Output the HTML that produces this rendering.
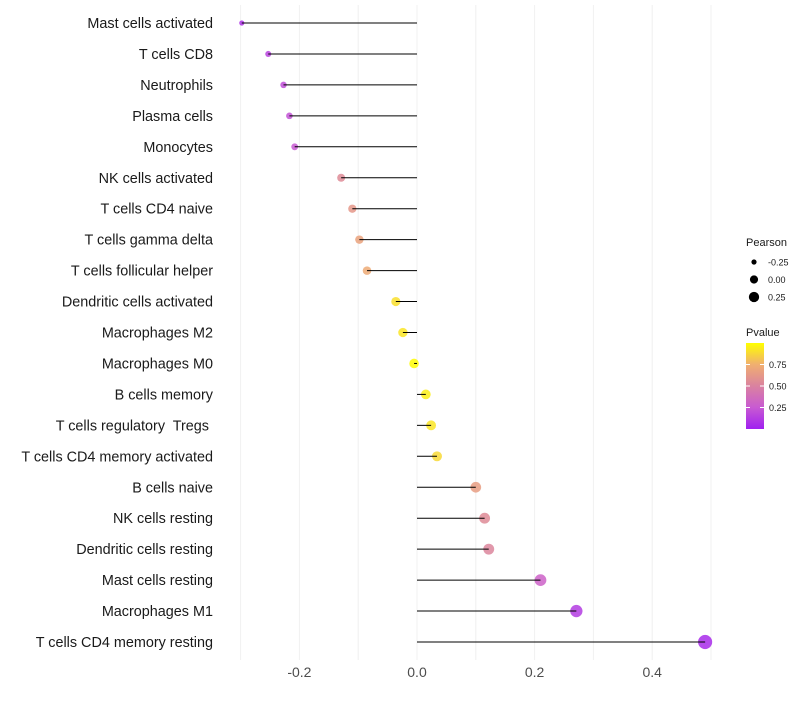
<!DOCTYPE html>
<html><head><meta charset="utf-8"><style>
body{margin:0;background:#fff;font-family:"Liberation Sans",sans-serif}
</style></head><body>
<svg id="c" width="800" height="700" xmlns="http://www.w3.org/2000/svg"></svg>
<script>
const categories=["Mast cells activated","T cells CD8","Neutrophils","Plasma cells","Monocytes","NK cells activated","T cells CD4 naive","T cells gamma delta","T cells follicular helper","Dendritic cells activated","Macrophages M2","Macrophages M0","B cells memory","T cells regulatory  Tregs ","T cells CD4 memory activated","B cells naive","NK cells resting","Dendritic cells resting","Mast cells resting","Macrophages M1","T cells CD4 memory resting"];
const pearson=[-0.298,-0.253,-0.227,-0.217,-0.208,-0.129,-0.110,-0.098,-0.085,-0.036,-0.024,-0.005,0.015,0.024,0.034,0.100,0.115,0.122,0.210,0.271,0.490];
const pvalue=[0.08,0.15,0.2,0.22,0.25,0.55,0.62,0.68,0.72,0.9,0.92,0.99,0.95,0.92,0.88,0.65,0.55,0.52,0.3,0.12,0.05];
const xTicks=[-0.2,0,0.2,0.4];
const xTickLabels=["-0.2","0.0","0.2","0.4"];
const sizeLegend=[-0.25,0,0.25];
const sizeLegendLabels=["-0.25","0.00","0.25"];
const colorTicks=[0.25,0.5,0.75];
const colorTickLabels=["0.25","0.50","0.75"];

const NS="http://www.w3.org/2000/svg";
const svg=document.getElementById('c');
function mk(t,a,p){const e=document.createElementNS(NS,t);for(const k in a)e.setAttribute(k,a[k]);(p||svg).appendChild(e);return e;}
const X=v=>417+v*588;
const Y=i=>23+i*30.95;
const R=v=>Math.sqrt(Math.max(2,23+55*v));
const stops=[[0,[160,32,240]],[0.25,[200,90,210]],[0.5,[218,130,160]],[0.75,[240,175,112]],[1,[255,255,0]]];
function col(p){for(let i=1;i<stops.length;i++){if(p<=stops[i][0]){const a=stops[i-1],b=stops[i],t=(p-a[0])/(b[0]-a[0]);return 'rgb('+a[1].map((c,j)=>Math.round(c+(b[1][j]-c)*t)).join(',')+')';}}return 'rgb(255,255,0)';}
for(let k=-3;k<=5;k++){const v=k/10;const g=mk('line',{x1:X(v),x2:X(v),y1:5,y2:660,stroke:'#f0f0f0','stroke-width':1});

}
xTicks.forEach((v,i)=>{const t=mk('text',{x:X(v),y:677,'text-anchor':'middle','font-size':14,fill:'#4d4d4d'});t.textContent=xTickLabels[i];

});
categories.forEach((c,i)=>{
const y=Y(i);
const lab=mk('text',{x:213,y:y+5,'text-anchor':'end','font-size':14.4,fill:'#1a1a1a'});lab.style.whiteSpace='pre';lab.textContent=c;


const pt=mk('circle',{cx:X(pearson[i]),cy:y,r:R(pearson[i]),fill:col(pvalue[i]),'fill-opacity':0.85});


const ln=mk('line',{x1:X(0),x2:X(pearson[i]),y1:y,y2:y,stroke:'#000','stroke-width':1});


});
const lt=mk('text',{x:746,y:246,'font-size':11,fill:'#1a1a1a'});lt.textContent='Pearson';


sizeLegend.forEach((v,i)=>{const y=262+i*17.5;
const c=mk('circle',{cx:754,cy:y,r:R(v)*0.85,fill:'#000'});


const t=mk('text',{x:768,y:y+3.5,'font-size':9,fill:'#1a1a1a'});t.textContent=sizeLegendLabels[i];

});
const ct=mk('text',{x:746,y:336,'font-size':11,fill:'#1a1a1a'});ct.textContent='Pvalue';


const defs=mk('defs',{});const lg=mk('linearGradient',{id:'g',x1:0,y1:1,x2:0,y2:0},defs);
stops.forEach(s=>mk('stop',{offset:s[0],'stop-color':col(s[0])},lg));
const cb=mk('rect',{x:746,y:343,width:18,height:86,fill:'url(#g)'});


const CY=p=>429-p*86;
colorTicks.forEach((p,i)=>{mk('line',{x1:746,x2:750,y1:CY(p),y2:CY(p),stroke:'#fff'});mk('line',{x1:760,x2:764,y1:CY(p),y2:CY(p),stroke:'#fff'});
const t=mk('text',{x:769,y:CY(p)+3.5,'font-size':9,fill:'#1a1a1a'});t.textContent=colorTickLabels[i];

});
</script>
</body></html>
